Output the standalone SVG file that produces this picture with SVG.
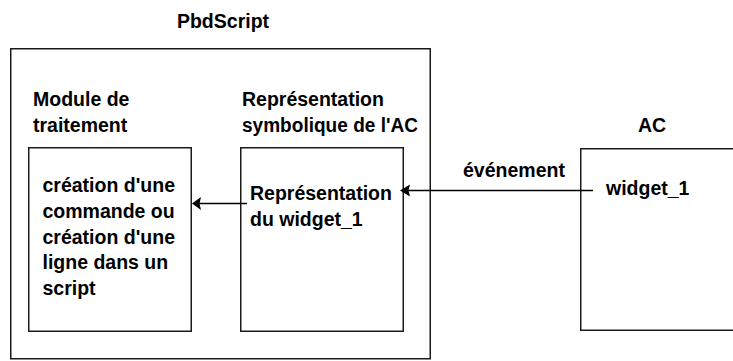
<svg xmlns="http://www.w3.org/2000/svg" width="733" height="361" viewBox="0 0 733 361">
<style>
  .box { fill: none; stroke: #1a1a1a; stroke-width: 1.5; }
  .t { font-family: "Liberation Sans", Arial, sans-serif; font-weight: bold; font-size: 19.5px; fill: #000; }
  .conn { stroke: #000; stroke-width: 1.3; fill: none; }
  .head { fill: #000; }
</style>
<rect width="733" height="361" fill="#fff"/>
<g id="pbdscript">
  <rect class="box" x="10.75" y="48.75" width="419.5" height="310"/>
  <text class="t" x="223" y="28" text-anchor="middle">PbdScript</text>
</g>
<g id="module">
  <text class="t" x="33" y="106">Module de</text>
  <text class="t" x="33" y="132">traitement</text>
  <rect class="box" x="28.75" y="147.75" width="162.5" height="183.5"/>
  <text class="t" x="42.5" y="192">création d'une</text>
  <text class="t" x="42.5" y="217.5">commande ou</text>
  <text class="t" x="42.5" y="243.5">création d'une</text>
  <text class="t" x="42.5" y="269">ligne dans un</text>
  <text class="t" x="42.5" y="295">script</text>
</g>
<g id="representation">
  <text class="t" x="242" y="106">Représentation</text>
  <text class="t" x="242" y="132" textLength="176" lengthAdjust="spacingAndGlyphs">symbolique de l'AC</text>
  <rect class="box" x="240.75" y="147.75" width="162.5" height="183.5"/>
  <text class="t" x="250" y="200">Représentation</text>
  <text class="t" x="250" y="226">du widget_1</text>
</g>
<g id="ac">
  <text class="t" x="638" y="132">AC</text>
  <rect class="box" x="580.75" y="148.75" width="200" height="181.5"/>
  <text class="t" x="606" y="195">widget_1</text>
</g>
<g id="connectors">
  <line class="conn" x1="593" y1="190.5" x2="406" y2="190.5"/>
  <polygon class="head" points="400,190.5 410,184.5 408.5,190.5 410,196.5"/>
  <text class="t" x="463" y="177">événement</text>
  <line class="conn" x1="247" y1="203.5" x2="198" y2="203.5"/>
  <polygon class="head" points="192,203.5 201,197 199.5,203.5 201,210"/>
</g>
</svg>
